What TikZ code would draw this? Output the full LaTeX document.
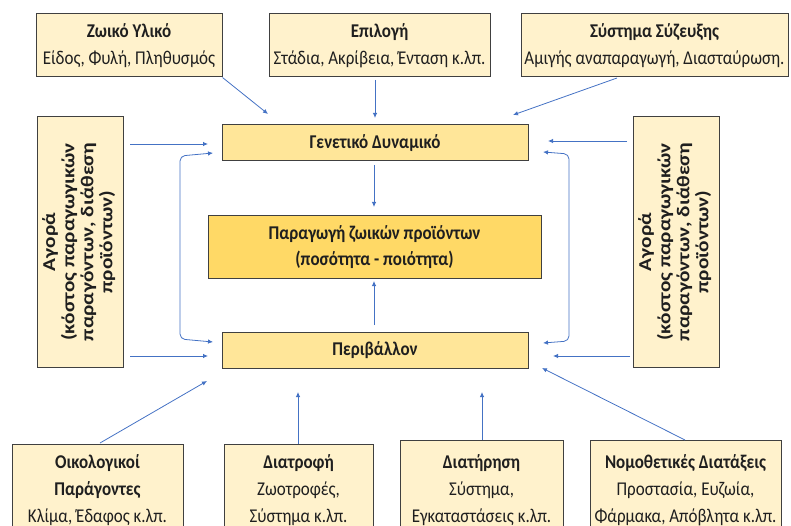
\documentclass[tikz,border=0pt]{standalone}
\usepackage{fontspec}
\setmainfont{Carlito}[FakeStretch=0.87]
\newfontfamily\rotfont{Carlito}
\usetikzlibrary{arrows.meta}
\definecolor{lightbox}{HTML}{FFF2CC}
\definecolor{midbox}{HTML}{FFE699}
\definecolor{darkbox}{HTML}{FFD966}
\definecolor{edge}{HTML}{404040}
\definecolor{arrowblue}{HTML}{4472C4}
\definecolor{txt}{HTML}{1F1F1F}
\begin{document}
\begin{tikzpicture}[x=1pt,y=-1pt,
  box/.style={draw=edge,line width=1pt,fill=lightbox,inner sep=0pt,align=center,text=txt,
    font=\fontsize{19.5}{27}\selectfont},
  midb/.style={box,fill=midbox},
  prodb/.style={box,fill=darkbox,font=\fontsize{19.5}{26}\selectfont},
  conn/.style={draw=arrowblue,line width=0.8pt,-{Latex[length=5pt,width=4.5pt]}},
  both/.style={draw=arrowblue,line width=0.8pt,{Latex[length=5pt,width=4.5pt]}-{Latex[length=5pt,width=4.5pt]},rounded corners=5pt},
  rottext/.style={rotate=90,align=center,text=txt,inner sep=0pt,
    font=\rotfont\bfseries\fontsize{21.3}{22.3}\selectfont}]
\useasboundingbox (0,0) rectangle (791,526);
\clip (0,0) rectangle (791,526);

% top boxes
\node[box,minimum width=186pt,minimum height=63pt] (z1) at (129,45.5)
  {\textbf{Ζωικό Υλικό}\\Είδος, Φυλή, Πληθυσμός};
\node[box,minimum width=221pt,minimum height=63pt] (z2) at (379.5,45.5)
  {\textbf{Επιλογή}\\Στάδια, Ακρίβεια, Ένταση κ.λπ.};
\node[box,minimum width=267pt,minimum height=63pt] (z3) at (654.5,45.5)
  {\textbf{Σύστημα Σύζευξης}\\Αμιγής αναπαραγωγή, Διασταύρωση.};

% centre boxes
\node[midb,minimum width=306pt,minimum height=36pt] (gen) at (375,143)
  {\textbf{Γενετικό Δυναμικό}};
\node[prodb,minimum width=333pt,minimum height=62pt] (prod) at (374.5,247)
  {\textbf{Παραγωγή ζωικών προϊόντων}\\\textbf{(ποσότητα - ποιότητα)}};
\node[midb,minimum width=306pt,minimum height=36pt] (env) at (375,350)
  {\textbf{Περιβάλλον}};

% side boxes
\node[box,minimum width=86pt,minimum height=250pt] (left) at (80,242) {};
\node[rottext] (lefttxt) at (left)
  {\scalebox{1}[0.85]{\begin{tabular}{@{}c@{}}Αγορά\\(κόστος παραγωγικών\\παραγόντων, διάθεση\\προϊόντων)\end{tabular}}};
\node[box,minimum width=86pt,minimum height=250pt] (right) at (676,242) {};
\node[rottext] (righttxt) at (right)
  {\scalebox{1}[0.85]{\begin{tabular}{@{}c@{}}Αγορά\\(κόστος παραγωγικών\\παραγόντων, διάθεση\\προϊόντων)\end{tabular}}};

% bottom boxes
\node[box,minimum width=171pt,minimum height=92pt] (b1) at (97.5,490)
  {\textbf{Οικολογικοί}\\\textbf{Παράγοντες}\\Κλίμα, Έδαφος κ.λπ.};
\node[box,minimum width=149pt,minimum height=92pt] (b2) at (298.5,490)
  {\textbf{Διατροφή}\\Ζωοτροφές,\\Σύστημα κ.λπ.};
\node[box,minimum width=163pt,minimum height=100pt] (b3) at (481.5,490)
  {\textbf{Διατήρηση}\\Σύστημα,\\Εγκαταστάσεις κ.λπ.};
\node[box,minimum width=191pt,minimum height=100pt] (b4) at (685.5,490)
  {\textbf{Νομοθετικές Διατάξεις}\\Προστασία, Ευζωία,\\Φάρμακα, Απόβλητα κ.λπ.};

% free ends
\coordinate (t1e) at (268,114);
\coordinate (t2s) at (375,80);
\coordinate (t2e) at (375,118);
\coordinate (t3s) at (617,78);
\coordinate (t3e) at (513,115);
\coordinate (la) at (130,144);
\coordinate (lae) at (208,144);
\coordinate (lb) at (130,356);
\coordinate (lbe) at (208,356);
\coordinate (ra) at (627,141);
\coordinate (rae) at (548,141);
\coordinate (rb) at (630,356);
\coordinate (rbe) at (553,356);
\coordinate (lbt) at (213,153);
\coordinate (lbb) at (213,342);
\coordinate (rbt) at (543,152);
\coordinate (rbb) at (543,343);
\coordinate (g1) at (374,165);
\coordinate (g2) at (374,207);
\coordinate (e1) at (374,325);
\coordinate (e2) at (374,281);
\coordinate (b1s) at (100,443);
\coordinate (b1e) at (207,381);
\coordinate (b2s) at (298,444);
\coordinate (b2e) at (298,392);
\coordinate (b3s) at (482,440);
\coordinate (b3e) at (482,392);
\coordinate (b4s) at (685,440);
\coordinate (b4e) at (542,368);

% connectors
\draw[conn] (z1.south east) -- (t1e);
\draw[conn] (t2s) -- (t2e);
\draw[conn] (t3s) -- (t3e);
\draw[conn] (la) -- (lae);
\draw[conn] (lb) -- (lbe);
\draw[conn] (ra) -- (rae);
\draw[conn] (rb) -- (rbe);
\draw[both] (lbt) -- (180,156) -- (180,339) -- (lbb);
\draw[both] (rbt) -- (569,154) -- (569,341) -- (rbb);
\draw[conn] (g1) -- (g2);
\draw[conn] (e1) -- (e2);
\draw[conn] (b1s) -- (b1e);
\draw[conn] (b2s) -- (b2e);
\draw[conn] (b3s) -- (b3e);
\draw[conn] (b4s) -- (b4e);
\end{tikzpicture}
\end{document}
